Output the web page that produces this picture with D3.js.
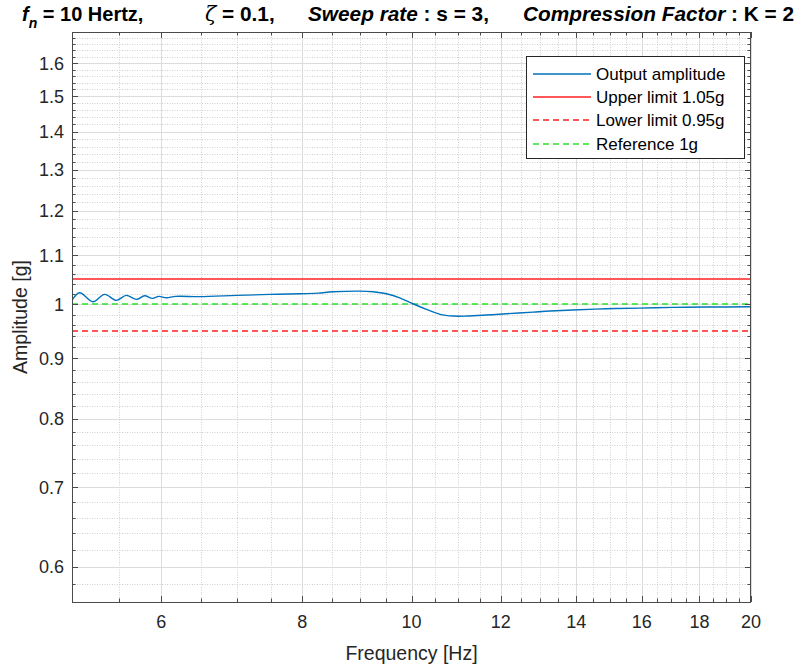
<!DOCTYPE html>
<html>
<head>
<meta charset="utf-8">
<script src="https://cdn.jsdelivr.net/npm/d3@7"></script>
<style>
  html, body { margin: 0; padding: 0; background: #ffffff; }
  svg { display: block; font-family: "Liberation Sans", Arial, Helvetica, sans-serif; }
</style>
</head>
<body>
<svg id="chart" width="801" height="668"></svg>
<script>
// ---------------- data ----------------
const freqHz = [5.0, 5.078, 5.219, 5.344, 5.473, 5.586, 5.702, 5.799, 5.891, 5.970, 6.062, 6.178,
  6.487, 6.995, 7.487, 7.962, 8.26, 8.521, 8.997, 9.246, 9.502, 9.763, 10.03, 10.31, 10.60, 10.89,
  11.19, 11.65, 12.14, 12.82, 13.27, 13.91, 14.89, 15.94, 17.07, 18.27, 19.96, 20.0];
const outputAmp = [1.0078, 1.0228, 1.0050, 1.0196, 1.0078, 1.0176, 1.0098, 1.0168, 1.0117, 1.0157, 1.0129, 1.0157,
  1.0152, 1.0176, 1.0196, 1.0208, 1.0222, 1.0248, 1.0262, 1.0248, 1.0208, 1.0129, 1.0012, 0.9903, 0.9808, 0.9775,
  0.9775, 0.9794, 0.9819, 0.9851, 0.9871, 0.9890, 0.9915, 0.9928, 0.9942, 0.9948, 0.9953, 0.9953];
const upperLimit = 1.05;
const lowerLimit = 0.95;
const referenceLevel = 1.0;
const xDomain = [5, 20];
const yDomain = [0.56, 1.7];
const xTicks = [6, 8, 10, 12, 14, 16, 18, 20];
const xTickLabels = ["6", "8", "10", "12", "14", "16", "18", "20"];
const yTicks = [0.6, 0.7, 0.8, 0.9, 1.0, 1.1, 1.2, 1.3, 1.4, 1.5, 1.6];
const yTickLabels = ["0.6", "0.7", "0.8", "0.9", "1", "1.1", "1.2", "1.3", "1.4", "1.5", "1.6"];
const xMinorTicks = d3.range(5.5, 20, 0.5).filter(v => !xTicks.some(t => Math.abs(t - v) < 1e-6));
const yMinorTicks = d3.range(0.58, 1.7, 0.02).filter(v => !yTicks.some(t => Math.abs(t - v) < 1e-6));
const legendLabels = ["Output amplitude", "Upper limit 1.05g", "Lower limit 0.95g", "Reference 1g"];
const xLabel = "Frequency [Hz]";
const yLabel = "Amplitude [g]";

// ---------------- layout ----------------
const svg = d3.select("#chart");
const L = 72, R = 751, T = 32, B = 602;
const x = d3.scaleLog().domain(xDomain).range([L, R]);
const y = d3.scaleLog().domain(yDomain).range([B, T]);
const px = v => Math.round(v) + 0.5;

const axisColor = "#4a4a4a";
const textColor = "#262626";
const redColor = "#ff2020";
const greenColor = "#2ee02e";
const blueColor = "#0072BD";

// grid
const grid = svg.append("g");
grid.selectAll(".xminor").data(xMinorTicks).enter().append("line")
  .attr("x1", d => px(x(d))).attr("x2", d => px(x(d))).attr("y1", T).attr("y2", B)
  .attr("stroke", "#cfcfcf").attr("stroke-width", 1).attr("stroke-dasharray", "1,1.5");
grid.selectAll(".yminor").data(yMinorTicks).enter().append("line")
  .attr("y1", d => px(y(d))).attr("y2", d => px(y(d))).attr("x1", L).attr("x2", R)
  .attr("stroke", "#cfcfcf").attr("stroke-width", 1).attr("stroke-dasharray", "1,1.5");
grid.selectAll(".xmajor").data(xTicks).enter().append("line")
  .attr("x1", d => px(x(d))).attr("x2", d => px(x(d))).attr("y1", T).attr("y2", B)
  .attr("stroke", "#dcdcdc").attr("stroke-width", 1);
grid.selectAll(".ymajor").data(yTicks).enter().append("line")
  .attr("y1", d => px(y(d))).attr("y2", d => px(y(d))).attr("x1", L).attr("x2", R)
  .attr("stroke", "#dcdcdc").attr("stroke-width", 1);

// data lines
const clipId = "plotclip";
svg.append("clipPath").attr("id", clipId).append("rect")
  .attr("x", L).attr("y", T).attr("width", R - L).attr("height", B - T);
const plot = svg.append("g").attr("clip-path", `url(#${clipId})`);

const hLine = (val, color, dash) => {
  const l = plot.append("line")
    .attr("x1", x(xDomain[0])).attr("x2", x(xDomain[1]))
    .attr("y1", Math.round(y(val))).attr("y2", Math.round(y(val)))
    .attr("stroke", color).attr("stroke-width", 1.3);
  if (dash) l.attr("stroke-dasharray", dash);
};
hLine(upperLimit, redColor, null);
hLine(lowerLimit, redColor, "6,4");
hLine(referenceLevel, greenColor, "6,4");

const line = d3.line()
  .x((d, i) => x(freqHz[i]))
  .y(d => y(d))
  .curve(d3.curveCatmullRom.alpha(0.5));
plot.append("path").datum(outputAmp)
  .attr("d", line).attr("fill", "none")
  .attr("stroke", blueColor).attr("stroke-width", 1.4);

// axes frame + ticks (all four sides, inward)
const ax = svg.append("g").attr("stroke", axisColor).attr("stroke-width", 1);
ax.append("rect").attr("x", L + 0.5).attr("y", T + 0.5).attr("width", R - L - 1).attr("height", B - T)
  .attr("fill", "none");
const majLen = 6, minLen = 3.5;
[[xTicks, majLen], [xMinorTicks, minLen]].forEach(([arr, len]) => {
  arr.forEach(v => {
    const xx = px(x(v));
    ax.append("line").attr("x1", xx).attr("x2", xx).attr("y1", B).attr("y2", B - len);
    ax.append("line").attr("x1", xx).attr("x2", xx).attr("y1", T).attr("y2", T + len);
  });
});
[[yTicks, majLen], [yMinorTicks, minLen]].forEach(([arr, len]) => {
  arr.forEach(v => {
    const yy = px(y(v));
    ax.append("line").attr("y1", yy).attr("y2", yy).attr("x1", L).attr("x2", L + len);
    ax.append("line").attr("y1", yy).attr("y2", yy).attr("x1", R).attr("x2", R - len);
  });
});

// tick labels
svg.append("g").selectAll("text").data(xTicks).enter().append("text")
  .attr("x", d => x(d)).attr("y", 628)
  .attr("text-anchor", "middle").attr("font-size", 18).attr("fill", textColor)
  .text((d, i) => xTickLabels[i]);
svg.append("g").selectAll("text").data(yTicks).enter().append("text")
  .attr("x", 64).attr("y", d => y(d) + 6.5)
  .attr("text-anchor", "end").attr("font-size", 18).attr("fill", textColor)
  .text((d, i) => yTickLabels[i]);

// axis labels
svg.append("text").attr("x", (L + R) / 2).attr("y", 660)
  .attr("text-anchor", "middle").attr("font-size", 19.5).attr("fill", textColor).text(xLabel);
svg.append("text").attr("transform", `translate(27,${(T + B) / 2}) rotate(-90)`)
  .attr("text-anchor", "middle").attr("font-size", 19.5).attr("fill", textColor).text(yLabel);

// title
const title = svg.append("g").attr("font-size", 20.8).attr("font-weight", "bold").attr("fill", "#000");
const tBase = 21;
const t1 = title.append("text").attr("x", 22).attr("y", tBase).attr("font-size", 20);
t1.append("tspan").attr("font-style", "italic").text("f");
t1.append("tspan").attr("font-style", "italic").attr("font-size", 14).attr("dy", 7).text("n");
t1.append("tspan").attr("dy", -7).text(" = 10 Hertz,");
const t2 = title.append("text").attr("x", 205).attr("y", tBase);
t2.append("tspan").attr("font-weight", "normal").attr("font-family", "DejaVu Serif, serif").attr("font-style", "italic").text("ζ");
t2.append("tspan").text(" = 0.1,");
const t3 = title.append("text").attr("x", 308).attr("y", tBase);
t3.append("tspan").attr("font-style", "italic").text("Sweep rate");
t3.append("tspan").text(" : s = 3,");
const t4 = title.append("text").attr("x", 523).attr("y", tBase);
t4.append("tspan").attr("font-style", "italic").text("Compression Factor");
t4.append("tspan").text(" : K = 2");

// legend
const lg = svg.append("g");
lg.append("rect").attr("x", 526.5).attr("y", 56.5).attr("width", 218).attr("height", 102)
  .attr("fill", "#fff").attr("stroke", "#262626").attr("stroke-width", 1);
const legendStyles = [
  { color: blueColor, dash: null, w: 1.4 },
  { color: redColor, dash: null, w: 1.3 },
  { color: redColor, dash: "6,4", w: 1.3 },
  { color: greenColor, dash: "6,4", w: 1.3 }
];
legendLabels.forEach((lab, i) => {
  const cy = 74 + i * 23.2;
  const l = lg.append("line").attr("x1", 533).attr("x2", 591).attr("y1", Math.round(cy)).attr("y2", Math.round(cy))
    .attr("stroke", legendStyles[i].color).attr("stroke-width", legendStyles[i].w);
  if (legendStyles[i].dash) l.attr("stroke-dasharray", legendStyles[i].dash);
  lg.append("text").attr("x", 596).attr("y", cy + 6).attr("font-size", 17).attr("fill", "#000").text(lab);
});
</script>
</body>
</html>
